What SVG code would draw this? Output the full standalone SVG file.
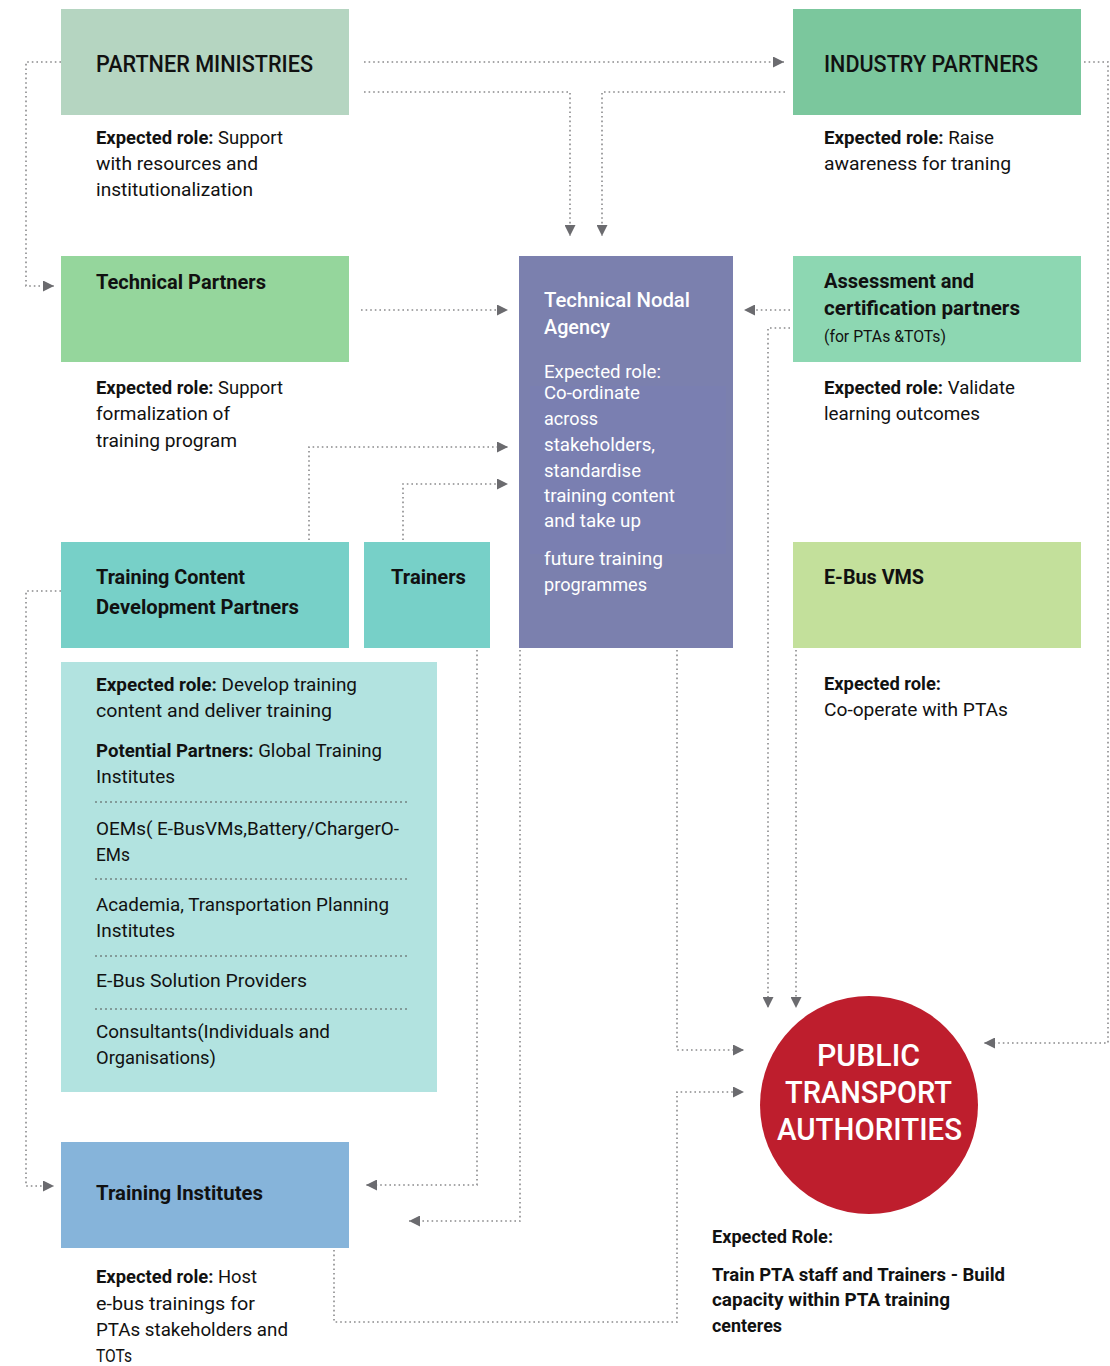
<svg xmlns="http://www.w3.org/2000/svg" width="1110" height="1366" viewBox="0 0 1110 1366">
<defs>
<style>
text{font-family:Roboto,"Liberation Sans",sans-serif;fill:#111}
.h1{font-size:24px;font-weight:500}
.h2{font-size:20px;font-weight:bold}
.t{font-size:18px}
.s{font-size:16px}
.b{font-weight:bold}
.w{fill:#fff}
.pta{font-size:32px;font-weight:500;fill:#fff}
.c{fill:none;stroke:#8a8a8c;stroke-width:1.6;stroke-dasharray:1.6 3;stroke-linecap:butt}
.sep{stroke:#555;stroke-width:1;stroke-dasharray:2 3}
</style>
<marker id="ah" viewBox="0 0 10 10" refX="10" refY="5" markerWidth="11" markerHeight="11" markerUnits="userSpaceOnUse" orient="auto">
<path d="M0,0 L10,5 L0,10 Z" fill="#6b6b6f"/>
</marker>
</defs>
<rect width="1110" height="1366" fill="#fff"/>

<g id="connectors">
<path class="c" d="M61,62 H26 V286 H54" marker-end="url(#ah)"/>
<path class="c" d="M364,62 H784" marker-end="url(#ah)"/>
<path class="c" d="M364,92 H570 V236" marker-end="url(#ah)"/>
<path class="c" d="M785,92 H602 V236" marker-end="url(#ah)"/>
<path class="c" d="M1084,62 H1108 V1043 H984" marker-end="url(#ah)"/>
<path class="c" d="M361,310 H508" marker-end="url(#ah)"/>
<path class="c" d="M790,310 H744" marker-end="url(#ah)"/>
<path class="c" d="M790,328 H768 V1008" marker-end="url(#ah)"/>
<path class="c" d="M796,650 V1008" marker-end="url(#ah)"/>
<path class="c" d="M309,540 V447 H508" marker-end="url(#ah)"/>
<path class="c" d="M403,540 V484 H508" marker-end="url(#ah)"/>
<path class="c" d="M61,591 H26 V1186 H54" marker-end="url(#ah)"/>
<path class="c" d="M477,650 V1185 H366" marker-end="url(#ah)"/>
<path class="c" d="M520,650 V1221 H409" marker-end="url(#ah)"/>
<path class="c" d="M677,650 V1050 H744" marker-end="url(#ah)"/>
<path class="c" d="M334,1250 V1322 H677 V1092 H744" marker-end="url(#ah)"/>
</g>

<g id="partner-ministries">
<rect x="61" y="9" width="288" height="106" fill="#b5d5c1"/>
<text class="h1" x="96" y="72" textLength="217" lengthAdjust="spacingAndGlyphs">PARTNER MINISTRIES</text>
<text class="t" x="96" y="144" textLength="187" lengthAdjust="spacingAndGlyphs"><tspan class="b">Expected role:</tspan> Support</text>
<text class="t" x="96" y="170" textLength="162" lengthAdjust="spacingAndGlyphs">with resources and</text>
<text class="t" x="96" y="196" textLength="157" lengthAdjust="spacingAndGlyphs">institutionalization</text>
</g>

<g id="industry-partners">
<rect x="793" y="9" width="288" height="106" fill="#7bc79d"/>
<text class="h1" x="824" y="72" textLength="214" lengthAdjust="spacingAndGlyphs">INDUSTRY PARTNERS</text>
<text class="t" x="824" y="144" textLength="170" lengthAdjust="spacingAndGlyphs"><tspan class="b">Expected role:</tspan> Raise</text>
<text class="t" x="824" y="170" textLength="187" lengthAdjust="spacingAndGlyphs">awareness for traning</text>
</g>

<g id="technical-partners">
<rect x="61" y="256" width="288" height="106" fill="#95d69c"/>
<text class="h2" x="96" y="289" textLength="170" lengthAdjust="spacingAndGlyphs">Technical Partners</text>
<text class="t" x="96" y="394" textLength="187" lengthAdjust="spacingAndGlyphs"><tspan class="b">Expected role:</tspan> Support</text>
<text class="t" x="96" y="420" textLength="134" lengthAdjust="spacingAndGlyphs">formalization of</text>
<text class="t" x="96" y="447" textLength="141" lengthAdjust="spacingAndGlyphs">training program</text>
</g>

<g id="technical-nodal-agency">
<rect x="519" y="256" width="214" height="392" fill="#7b80ae"/>
<rect x="530" y="386" width="196" height="168" fill="#7a7fb1"/>
<text class="h2 w" x="544" y="307" textLength="146" lengthAdjust="spacingAndGlyphs" style="font-weight:500">Technical Nodal</text>
<text class="h2 w" x="544" y="334" textLength="66" lengthAdjust="spacingAndGlyphs" style="font-weight:500">Agency</text>
<text class="t w" x="544" y="378" textLength="117" lengthAdjust="spacingAndGlyphs">Expected role:</text>
<text class="t w" x="544" y="399" textLength="96" lengthAdjust="spacingAndGlyphs">Co-ordinate</text>
<text class="t w" x="544" y="425" textLength="54" lengthAdjust="spacingAndGlyphs">across</text>
<text class="t w" x="544" y="451" textLength="111" lengthAdjust="spacingAndGlyphs">stakeholders,</text>
<text class="t w" x="544" y="477" textLength="97" lengthAdjust="spacingAndGlyphs">standardise</text>
<text class="t w" x="544" y="502" textLength="131" lengthAdjust="spacingAndGlyphs">training content</text>
<text class="t w" x="544" y="527" textLength="97" lengthAdjust="spacingAndGlyphs">and take up</text>
<text class="t w" x="544" y="565" textLength="119" lengthAdjust="spacingAndGlyphs">future training</text>
<text class="t w" x="544" y="591" textLength="103" lengthAdjust="spacingAndGlyphs">programmes</text>
</g>

<g id="assessment-partners">
<rect x="793" y="256" width="288" height="106" fill="#8dd7b2"/>
<text class="h2" x="824" y="288" textLength="150" lengthAdjust="spacingAndGlyphs">Assessment and</text>
<text class="h2" x="824" y="315" textLength="196" lengthAdjust="spacingAndGlyphs">certification partners</text>
<text class="s" x="824" y="342" textLength="122" lengthAdjust="spacingAndGlyphs">(for PTAs &amp;TOTs)</text>
<text class="t" x="824" y="394" textLength="191" lengthAdjust="spacingAndGlyphs"><tspan class="b">Expected role:</tspan> Validate</text>
<text class="t" x="824" y="420" textLength="156" lengthAdjust="spacingAndGlyphs">learning outcomes</text>
</g>

<g id="training-content-partners">
<rect x="61" y="542" width="288" height="106" fill="#77d0c8"/>
<text class="h2" x="96" y="584" textLength="149" lengthAdjust="spacingAndGlyphs">Training Content</text>
<text class="h2" x="96" y="614" textLength="203" lengthAdjust="spacingAndGlyphs">Development Partners</text>
<rect x="61" y="662" width="376" height="430" fill="#b2e3e0"/>
<text class="t" x="96" y="691" textLength="261" lengthAdjust="spacingAndGlyphs"><tspan class="b">Expected role:</tspan> Develop training</text>
<text class="t" x="96" y="717" textLength="236" lengthAdjust="spacingAndGlyphs">content and deliver training</text>
<text class="t" x="96" y="757" textLength="286" lengthAdjust="spacingAndGlyphs"><tspan class="b">Potential Partners:</tspan> Global Training</text>
<text class="t" x="96" y="783" textLength="79" lengthAdjust="spacingAndGlyphs">Institutes</text>
<line class="sep" x1="95" y1="802" x2="407" y2="802"/>
<text class="t" x="96" y="835" textLength="303" lengthAdjust="spacingAndGlyphs">OEMs( E-BusVMs,Battery/ChargerO-</text>
<text class="t" x="96" y="861" textLength="34" lengthAdjust="spacingAndGlyphs">EMs</text>
<line class="sep" x1="95" y1="879" x2="407" y2="879"/>
<text class="t" x="96" y="911" textLength="293" lengthAdjust="spacingAndGlyphs">Academia, Transportation Planning</text>
<text class="t" x="96" y="937" textLength="79" lengthAdjust="spacingAndGlyphs">Institutes</text>
<line class="sep" x1="95" y1="956" x2="407" y2="956"/>
<text class="t" x="96" y="987" textLength="211" lengthAdjust="spacingAndGlyphs">E-Bus Solution Providers</text>
<line class="sep" x1="95" y1="1009" x2="407" y2="1009"/>
<text class="t" x="96" y="1038" textLength="234" lengthAdjust="spacingAndGlyphs">Consultants(Individuals and</text>
<text class="t" x="96" y="1064" textLength="120" lengthAdjust="spacingAndGlyphs">Organisations)</text>
</g>

<g id="trainers">
<rect x="364" y="542" width="126" height="106" fill="#77d0c8"/>
<text class="h2" x="391" y="584" textLength="75" lengthAdjust="spacingAndGlyphs">Trainers</text>
</g>

<g id="ebus-vms">
<rect x="793" y="542" width="288" height="106" fill="#c3e09b"/>
<text class="h2" x="824" y="584" textLength="100" lengthAdjust="spacingAndGlyphs">E-Bus VMS</text>
<text class="t b" x="824" y="690" textLength="117" lengthAdjust="spacingAndGlyphs">Expected role:</text>
<text class="t" x="824" y="716" textLength="184" lengthAdjust="spacingAndGlyphs">Co-operate with PTAs</text>
</g>

<g id="training-institutes">
<rect x="61" y="1142" width="288" height="106" fill="#86b4da"/>
<text class="h2" x="96" y="1200" textLength="167" lengthAdjust="spacingAndGlyphs">Training Institutes</text>
<text class="t" x="96" y="1283" textLength="161" lengthAdjust="spacingAndGlyphs"><tspan class="b">Expected role:</tspan> Host</text>
<text class="t" x="96" y="1310" textLength="159" lengthAdjust="spacingAndGlyphs">e-bus trainings for</text>
<text class="t" x="96" y="1336" textLength="192" lengthAdjust="spacingAndGlyphs">PTAs stakeholders and</text>
<text class="t" x="96" y="1362" textLength="36" lengthAdjust="spacingAndGlyphs">TOTs</text>
</g>

<g id="public-transport-authorities">
<circle cx="869" cy="1105" r="109" fill="#be1e2d"/>
<text class="pta" x="817" y="1066" textLength="103" lengthAdjust="spacingAndGlyphs">PUBLIC</text>
<text class="pta" x="785" y="1103" textLength="167" lengthAdjust="spacingAndGlyphs">TRANSPORT</text>
<text class="pta" x="777" y="1140" textLength="185" lengthAdjust="spacingAndGlyphs">AUTHORITIES</text>
<text class="t b" x="712" y="1243" textLength="121" lengthAdjust="spacingAndGlyphs">Expected Role:</text>
<text class="t b" x="712" y="1281" textLength="293" lengthAdjust="spacingAndGlyphs">Train PTA staff and Trainers - Build</text>
<text class="t b" x="712" y="1306" textLength="238" lengthAdjust="spacingAndGlyphs">capacity within  PTA training</text>
<text class="t b" x="712" y="1332" textLength="70" lengthAdjust="spacingAndGlyphs">centeres</text>
</g>
</svg>
